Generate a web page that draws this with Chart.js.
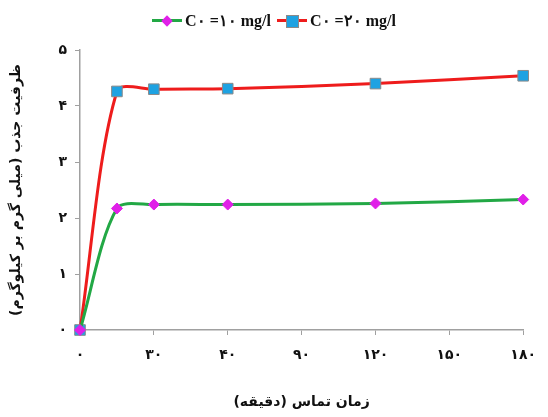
<!DOCTYPE html>
<html>
<head>
<meta charset="utf-8">
<script src="https://cdn.jsdelivr.net/npm/chart.js"></script>
<style>
  body { margin: 0; background: #fff; }
  #wrap { position: relative; width: 548px; height: 417px; }
  #legend {
    position: absolute; top: 8px; left: 0; width: 548px; text-align: center;
    font-family: "Liberation Serif", serif; font-weight: bold; font-size: 16px; color: #111;
    white-space: nowrap;
  }
  .item { display: inline-flex; align-items: center; margin: 0 1px; }
  .ln { position: relative; display: inline-block; width: 30px; height: 3px; margin-right: 3px; }
  .mk { position: absolute; left: 50%; top: 50%; }
</style>
</head>
<body>
<div id="wrap">
  <div id="legend">
    <span class="item"><span class="ln" style="background:#22a845"><span class="mk" style="width:8px;height:8px;margin:-4px 0 0 -4px;background:#e020e8;transform:rotate(45deg)"></span></span><span>C۰ =۱۰ mg/l</span></span>
    <span class="item"><span class="ln" style="background:#ee1c1c"><span class="mk" style="width:11px;height:11px;margin:-6px 0 0 -6px;background:#1ea2e2;border:1px solid #8a8a8a"></span></span><span>C۰ =۲۰ mg/l</span></span>
  </div>
  <canvas id="chart" width="548" height="417"></canvas>
</div>
<script>
// Data
const times = [0, 15, 30, 60, 120, 180];
const c10 = [0, 2.17, 2.24, 2.24, 2.26, 2.33];
const c20 = [0, 4.26, 4.30, 4.31, 4.40, 4.54];

const xTickValues = [0, 30, 60, 90, 120, 150, 180];
const xTickLabels = ['۰', '۳۰', '۴۰', '۹۰', '۱۲۰', '۱۵۰', '۱۸۰'];
const yTickLabels = ['۰', '۱', '۲', '۳', '۴', '۵'];

const fa = '"DejaVu Sans", sans-serif';

function toPoints(ys) {
  return times.map((t, i) => ({ x: t, y: ys[i] }));
}

new Chart(document.getElementById('chart'), {
  type: 'line',
  data: {
    datasets: [
      {
        label: 'C۰ =۱۰ mg/l',
        data: toPoints(c10),
        borderColor: '#22a845',
        borderWidth: 3,
        tension: 0.3,
        pointStyle: 'rectRot',
        pointRadius: 5.5,
        pointBackgroundColor: '#e020e8',
        pointBorderColor: '#e020e8',
        pointBorderWidth: 1,
      },
      {
        label: 'C۰ =۲۰ mg/l',
        data: toPoints(c20),
        borderColor: '#ee1c1c',
        borderWidth: 3,
        tension: 0.3,
        pointStyle: 'rect',
        pointRadius: 7.5,
        pointBackgroundColor: '#1ea2e2',
        pointBorderColor: '#8a8a8a',
        pointBorderWidth: 1,
      }
    ]
  },
  options: {
    responsive: false,
    animation: false,
    clip: false,
    layout: { padding: { top: 50, right: 20, left: 4, bottom: 2 } },
    plugins: { legend: { display: false }, tooltip: { enabled: false } },
    scales: {
      x: {
        type: 'linear',
        min: 0,
        max: 180,
        afterBuildTicks: (scale) => { scale.ticks = xTickValues.map(v => ({ value: v })); },
        afterFit: (scale) => { scale.height = 85; },
        ticks: {
          autoSkip: false,
          padding: 12,
          color: '#111',
          font: { family: fa, size: 14, weight: 'bold' },
          callback: (v) => xTickLabels[xTickValues.indexOf(v)]
        },
        grid: { drawOnChartArea: false, drawTicks: true, tickLength: 5, color: '#a0a0a0' },
        border: { color: '#a0a0a0', width: 1.5 },
        title: {
          display: true,
          text: 'زمان تماس (دقیقه)',
          color: '#111',
          font: { family: fa, size: 14, weight: 'bold' },
          padding: { top: 18 }
        }
      },
      y: {
        min: 0,
        max: 5,
        afterFit: (scale) => { scale.width = 76; },
        ticks: {
          stepSize: 1,
          padding: 8,
          color: '#111',
          font: { family: fa, size: 14, weight: 'bold' },
          callback: (v) => yTickLabels[v]
        },
        grid: { drawOnChartArea: false, drawTicks: true, tickLength: 5, color: '#a0a0a0' },
        border: { color: '#a0a0a0', width: 1.5 },
        title: {
          display: true,
          text: 'ظرفیت جذب (میلی گرم بر کیلوگرم)',
          color: '#111',
          font: { family: fa, size: 14, weight: 'bold' },
          padding: { bottom: 6 }
        }
      }
    }
  }
});
</script>
</body>
</html>
